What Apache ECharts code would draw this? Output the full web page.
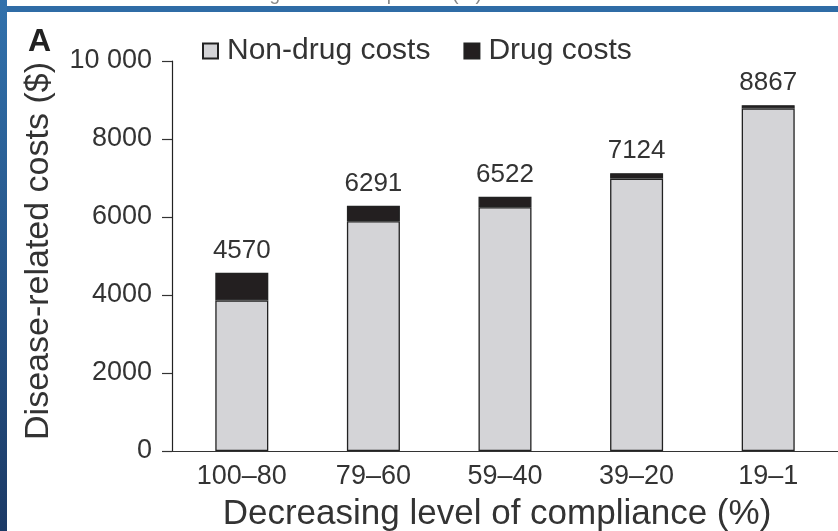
<!DOCTYPE html>
<html><head><meta charset="utf-8">
<script src="https://cdn.jsdelivr.net/npm/echarts@6/dist/echarts.min.js"></script>
<style>html,body{margin:0;padding:0;background:#fff}#c{width:838px;height:531px}</style>
</head><body><div id="c"></div>
<script>
const categories = ['100–80', '79–60', '59–40', '39–20', '19–1'];
const nonDrugCosts = [3860, 5891, 6252, 6984, 8782];
const drugCosts = [710, 400, 270, 140, 85];
const totalLabels = [4570, 6291, 6522, 7124, 8867];
const yTickLabels = ['0', '2000', '4000', '6000', '8000', '10 000'];
const seriesNames = ['Non-drug costs', 'Drug costs'];
const xTitle = 'Decreasing level of compliance (%)';
const yTitle = 'Disease-related costs ($)';

const font = "'Liberation Sans', Arial, Helvetica, sans-serif";
const chart = echarts.init(document.getElementById('c'), null, {renderer: 'canvas'});
chart.setOption({
  backgroundColor: '#ffffff',
  animation: false,
  textStyle: {fontFamily: font, color: '#333'},
  title: {text: 'A', left: 23, top: 21, textStyle: {fontSize: 32, fontWeight: 'bold', color: '#222', fontFamily: font}},
  legend: {
    data: seriesNames, left: 197, top: 31, itemWidth: 15, itemHeight: 15, itemGap: 33,
    icon: 'rect',
    textStyle: {fontSize: 30, color: '#333', fontFamily: font, padding: [0, 0, 0, 4]}
  },
  graphic: [
    {type: 'text', left: 184, top: -15, z: 1, style: {text: xTitle, fontSize: 19, fill: '#888', fontFamily: font}},
    {type: 'rect', left: 0, top: 6, z: 10, shape: {width: 838, height: 6}, style: {fill: '#2f6ca6'}},
    {type: 'rect', left: 0, top: 0, z: 10, shape: {width: 7, height: 531}, style: {fill: new echarts.graphic.LinearGradient(0, 0, 0, 1, [{offset: 0, color: '#3171ac'}, {offset: 1, color: '#1c3a66'}])}}
  ],
  grid: [
    {left: 176, right: 4, top: 61, bottom: 80, containLabel: false, outerBoundsMode: 'none'},
    {left: 172, right: 0, top: 61, bottom: 80, containLabel: false, outerBoundsMode: 'none'}
  ],
  xAxis: [
    {
      type: 'category', gridIndex: 0, data: categories,
      axisLine: {show: false}, axisTick: {show: false},
      axisLabel: {fontSize: 27, color: '#333', margin: 12, fontFamily: font},
      name: xTitle, nameLocation: 'middle', nameGap: 46,
      nameTextStyle: {fontSize: 35, color: '#333', fontFamily: font, padding: [0, 16, 0, 0]}
    },
    {
      type: 'value', gridIndex: 1, min: 0, max: 1,
      axisLine: {show: true, onZero: false, lineStyle: {color: '#333', width: 1.2}},
      axisTick: {show: false}, axisLabel: {show: false}, splitLine: {show: false}
    }
  ],
  yAxis: [
    {
      type: 'value', gridIndex: 0, min: 0, max: 10000, interval: 2000, offset: 4,
      axisLine: {show: true, lineStyle: {color: '#222', width: 1.2}},
      axisTick: {show: true, length: 10, lineStyle: {color: '#333', width: 1.2}},
      axisLabel: {fontSize: 27, color: '#333', margin: 20, fontFamily: font,
        formatter: v => yTickLabels[Math.round(v / 2000)]},
      splitLine: {show: false},
      name: yTitle, nameLocation: 'middle', nameGap: 116,
      nameTextStyle: {fontSize: 34, color: '#333', fontFamily: font, padding: [0, 0, 0, 10]}
    },
    {type: 'value', gridIndex: 1, show: false, min: 0, max: 1}
  ],
  series: [
    {
      name: seriesNames[0], type: 'bar', stack: 'c', barWidth: 53, data: nonDrugCosts,
      itemStyle: {color: '#d4d4d7', borderColor: '#222', borderWidth: 1.3}
    },
    {
      name: seriesNames[1], type: 'bar', stack: 'c', barWidth: 53, data: drugCosts,
      itemStyle: {color: '#231f20', borderColor: '#222', borderWidth: 1.3},
      label: {show: true, position: 'top', distance: 9, fontSize: 26, color: '#333', fontFamily: font,
        formatter: p => String(totalLabels[p.dataIndex])}
    }
  ]
});
</script></body></html>
